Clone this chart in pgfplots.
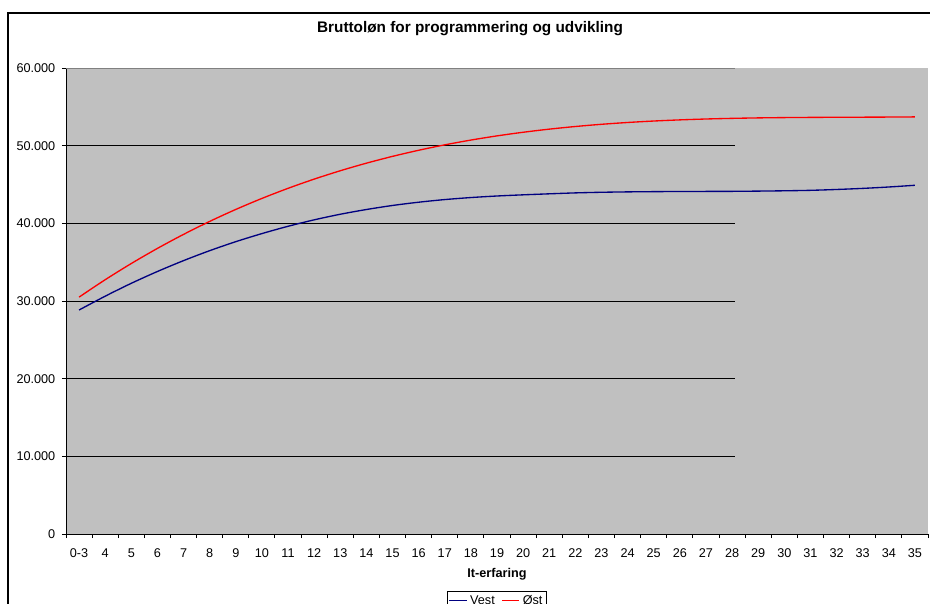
\documentclass[border=0pt]{standalone}
\usepackage{pgfplots}
\pgfplotsset{compat=1.18}
\usepackage{fontspec}
\setmainfont{Liberation Sans}
\definecolor{plotgray}{HTML}{C0C0C0}
\definecolor{vest}{HTML}{000080}
\definecolor{oest}{HTML}{FF0000}

\begin{document}
\begin{tikzpicture}[x=0.75pt,y=0.75pt]
% page is 930 x 603 px, 1px = 0.75pt, y counted from the bottom
\useasboundingbox (0,0) rectangle (930,603);
\draw[line width=0.9pt] (8,-5) -- (8,590) -- (940,590);
\node[font=\fontsize{11.5}{13}\selectfont\bfseries] at (470,574) {Bruttoløn for programmering og udvikling};
\begin{axis}[
    at={(49.5pt,51.75pt)}, anchor=south west,
    scale only axis, width=646.5pt, height=349.5pt,
    xmin=-0.5, xmax=32.5, ymin=0, ymax=60000,
    scaled y ticks=false,
    axis x line=bottom, axis y line=left,
    axis line style={-, black, line width=0.75pt},
    axis background/.style={fill=plotgray},
    xtick={0,...,32},
    xticklabels={0-3,4,5,6,7,8,9,10,11,12,13,14,15,16,17,18,19,20,21,22,23,24,25,26,27,28,29,30,31,32,33,34,35},
    major x tick style={draw=none},
    minor xtick={-0.5,0.5,...,32.5},
    ytick={0,10000,...,60000},
    yticklabels={0,10.000,20.000,30.000,40.000,50.000,60.000},
    tick align=outside, major tick length=3pt, minor tick length=3pt,
    tick style={black, line width=0.75pt},
    ticklabel style={font=\fontsize{9.5}{11}\selectfont},
    xticklabel style={yshift=-4.2pt},
    yticklabel style={xshift=-1.5pt},
    xlabel={It-erfaring},
    xlabel style={font=\fontsize{9.5}{11}\selectfont\bfseries,
        at={(axis description cs:0.5,-0.0868)}, anchor=center},
    legend columns=2,
    legend style={at={(axis description cs:0.5,-0.1217)}, anchor=north,
        draw=black, line width=0.75pt, fill=white,
        font=\fontsize{9.5}{11}\selectfont,
        inner xsep=1pt, inner ysep=1pt,
        /tikz/every even column/.append style={column sep=3pt}},
    legend image code/.code={\draw[#1] (0pt,0pt) -- (13pt,0pt);},
]
% gridlines stop short of the right edge, as in the original
\draw[black, line width=0.75pt] (axis cs:-0.5,10000) -- (axis cs:25.11,10000);
\draw[black, line width=0.75pt] (axis cs:-0.5,20000) -- (axis cs:25.11,20000);
\draw[black, line width=0.75pt] (axis cs:-0.5,30000) -- (axis cs:25.11,30000);
\draw[black, line width=0.75pt] (axis cs:-0.5,40000) -- (axis cs:25.11,40000);
\draw[black, line width=0.75pt] (axis cs:-0.5,50000) -- (axis cs:25.11,50000);
\draw[gray, line width=0.75pt] (axis cs:-0.5,60000) -- (axis cs:25.11,60000);

\addplot[vest, line width=1pt, smooth, no marks] coordinates {
(0,28840) (1,30620) (2,32280) (3,33800) (4,35200) (5,36480) (6,37640)
(7,38680) (8,39620) (9,40450) (10,41170) (11,41780) (12,42300) (13,42720)
(14,43060) (15,43320) (16,43520) (17,43670) (18,43800) (19,43920) (20,44000)
(21,44050) (22,44080) (23,44100) (24,44110) (25,44120) (26,44150) (27,44190)
(28,44250) (29,44360) (30,44500) (31,44680) (32,44900)
};
\addplot[oest, line width=1pt, smooth, no marks] coordinates {
(0,30500) (1,32739) (2,34828) (3,36773) (4,38578) (5,40248) (6,41790)
(7,43208) (8,44507) (9,45693) (10,46771) (11,47746) (12,48623) (13,49408)
(14,50105) (15,50721) (16,51260) (17,51727) (18,52128) (19,52468) (20,52752)
(21,52985) (22,53173) (23,53320) (24,53434) (25,53516) (26,53576) (27,53615)
(28,53640) (29,53656) (30,53669) (31,53683) (32,53705)
};
\legend{Vest, Øst}
\end{axis}
\end{tikzpicture}
\end{document}
